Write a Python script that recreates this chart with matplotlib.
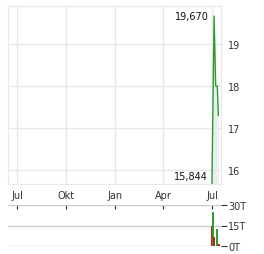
import matplotlib
matplotlib.use('Agg')
import matplotlib.pyplot as plt
from datetime import datetime

# price data (only the last days of the range carry values)
dates = ['2024-07-01', '2024-07-05', '2024-07-08', '2024-07-11', '2024-07-13']
prices = [15.66, 19.670, 18.0, 18.0, 17.3]
period_high = 19.670
period_low = 15.844

# volume in thousands, bar colour by up/down
vol_dates = ['2024-07-01', '2024-07-03', '2024-07-05', '2024-07-11', '2024-07-15']
volumes = [15.0, 25.0, 6.6, 12.8, 1.5]
vol_up = [False, True, False, True, False]

month_ticks = ['2023-07-01', '2023-10-01', '2024-01-01', '2024-04-01', '2024-07-01']
month_labels = ['Jul', 'Okt', 'Jan', 'Apr', 'Jul']
price_ticks = [16, 17, 18, 19]
vol_ticks = [0, 15, 30]
vol_labels = ['0T', '15T', '30T']

to_dt = lambda s: datetime.strptime(s, '%Y-%m-%d')
x = [to_dt(d) for d in dates]
xv = [to_dt(d) for d in vol_dates]
xt = [to_dt(d) for d in month_ticks]
xmin, xmax = to_dt('2023-06-14'), to_dt('2024-07-18')

grid_c = '#e8e8e8'
txt_c = '#333333'
green = '#2e9b2e'
red = '#c41a1a'

fig = plt.figure(figsize=(2.64, 2.55), dpi=100)
ax = fig.add_axes([8/264, 1-185/255, 213/264, 178/255])
axv = fig.add_axes([8/264, 1-247/255, 213/264, 41/255])

ax.fill_between(x, prices, 15.66, color='#e9eef3', lw=0)
ax.plot(x, prices, color=green, lw=1)
ax.set_xlim(xmin, xmax)
ax.set_ylim(15.66, 19.91)
ax.yaxis.tick_right()
ax.set_yticks(price_ticks)
ax.set_yticklabels([str(t) for t in price_ticks])
ax.set_xticks(xt)
ax.set_xticklabels(month_labels)
ax.tick_params(axis='both', length=0, labelsize=7, colors=txt_c, pad=4)
ax.tick_params(axis='y', pad=5)
ax.grid(True, color=grid_c, lw=1)
for s in ax.spines.values():
    s.set_color(grid_c)

imax = prices.index(max(prices))
ax.annotate(f"{period_high:.3f}".replace('.', ','), (x[imax], period_high),
            xytext=(-3.5, 0), textcoords='offset points', ha='right', va='center',
            fontsize=7, color='#111111')
ax.annotate(f"{period_low:.3f}".replace('.', ','), (x[0], period_low),
            xytext=(-3, 0), textcoords='offset points', ha='right', va='center',
            fontsize=7, color='#111111')

cols = [green if u else red for u in vol_up]
axv.vlines(xv, 0, volumes, colors=cols, lw=1.4, zorder=3)
axv.set_xlim(xmin, xmax)
axv.set_ylim(0, 30)
axv.yaxis.tick_right()
axv.set_yticks(vol_ticks)
axv.set_yticklabels(vol_labels)
axv.tick_params(axis='y', length=4, labelsize=7, colors=txt_c, pad=1)
axv.xaxis.tick_top()
axv.set_xticks(xt)
axv.tick_params(axis='x', direction='in', length=3, color='#222222', labeltop=False)
axv.grid(True, axis='y', color='#cccccc', lw=1)
for s in axv.spines.values():
    s.set_visible(False)

fig.savefig('out.png', dpi=100)
